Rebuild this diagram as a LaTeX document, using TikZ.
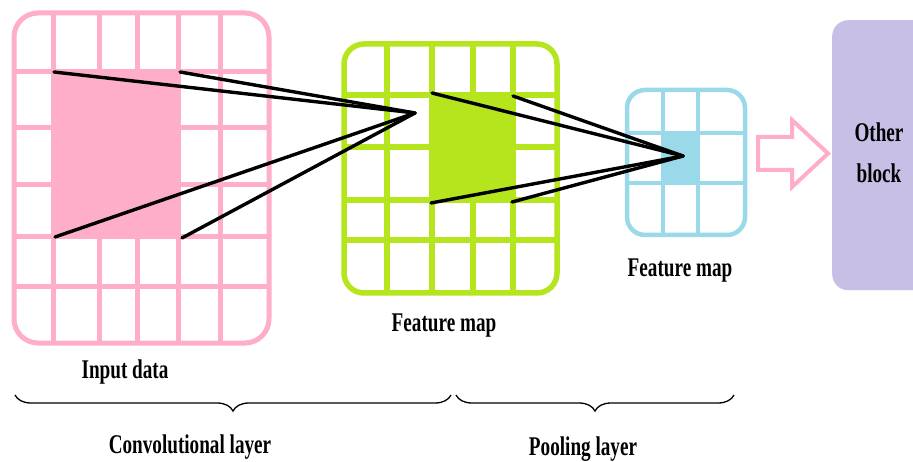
\documentclass[tikz,border=0pt]{standalone}
\usepackage{fontspec}
\setmainfont{Liberation Serif}[FakeStretch=0.71]
\usetikzlibrary{decorations.pathreplacing}
\definecolor{rosec}{HTML}{FFAEC9}
\definecolor{limec}{HTML}{B5E61D}
\definecolor{turqc}{HTML}{99D9EA}
\definecolor{lavc}{HTML}{C8BFE7}
\tikzset{
  lbl/.style={font=\fontsize{27}{32}\selectfont\bfseries, inner sep=0pt, anchor=base},
  ray/.style={line width=3.4pt, line cap=round, black},
  bracestyle/.style={decorate, decoration={brace, amplitude=16pt, mirror}, line width=1.3pt, black},
}
\begin{document}
\begin{tikzpicture}[x=1pt,y=-1pt]
\clip (0,0) rectangle (913,462);
\fill[white] (0,0) rectangle (913,462);

% ---- Input data grid (pink)
\fill[rosec] (53,70) rectangle (180,238);
\begin{scope}[line width=5pt, rosec]
  \foreach \x in {53,99,137,178,220} \draw (\x,13) -- (\x,343);
  \foreach \y in {72,128,185,237,287} \draw (14,\y) -- (269,\y);
  \draw[rounded corners=24pt] (14,13) rectangle (269,343);
\end{scope}

% ---- Feature map grid (green)
\fill[limec] (432,95) rectangle (513,200);
\begin{scope}[line width=5.5pt, limec]
  \foreach \x in {387,432,473,513} \draw (\x,44) -- (\x,293);
  \foreach \y in {95,147,200,240} \draw (344,\y) -- (557,\y);
  \draw[rounded corners=20pt] (344,44) rectangle (557,293);
\end{scope}

% ---- Pooled feature map grid (blue)
\fill[turqc] (663,133) rectangle (698,183);
\begin{scope}[line width=4.5pt, turqc]
  \foreach \x in {663,698} \draw (\x,90) -- (\x,235);
  \foreach \y in {133,183} \draw (627,\y) -- (745,\y);
  \draw[rounded corners=18pt] (627,90) rectangle (745,235);
\end{scope}

% ---- coordinates for rays
\coordinate (pTL) at (54,72);
\coordinate (pTR) at (180,72);
\coordinate (pBL) at (55,237);
\coordinate (pBR) at (182,238);
\coordinate (gTip) at (415,113);
\coordinate (gTL) at (432,93);
\coordinate (gTR) at (513,96);
\coordinate (gBL) at (431,203);
\coordinate (gBR) at (512,202);
\coordinate (bTip) at (683,156);

\draw[ray] (pTL) -- (gTip);
\draw[ray] (pTR) -- (gTip);
\draw[ray] (pBL) -- (gTip);
\draw[ray] (pBR) -- (gTip);
\draw[ray] (gTL) -- (bTip);
\draw[ray] (gTR) -- (bTip);
\draw[ray] (gBL) -- (bTip);
\draw[ray] (gBR) -- (bTip);

% ---- hollow block arrow
\draw[rosec, line width=4pt, line join=miter]
  (758,137) -- (792,137) -- (792,120) -- (828,153.5) -- (792,187) -- (792,170) -- (758,170) -- cycle;

% ---- Other block
\node[fill=lavc, rounded corners=16pt, minimum width=120pt, minimum height=270pt, inner sep=0pt, anchor=north west] (other) at (832,20) {};
\node[lbl] (otherA) at (879,142) {Other};
\node[lbl] (otherB) at (879,183) {block};

% ---- labels
\node[lbl] (inlbl) at (125,378) {Input data};
\node[lbl] (fm1) at (444,332) {Feature map};
\node[lbl] (fm2) at (680,277) {Feature map};

% ---- braces
\coordinate (b1s) at (15,395);
\coordinate (b1e) at (451,395);
\coordinate (b2s) at (456,395);
\coordinate (b2e) at (734,395);
\draw[bracestyle] (b1s) -- (b1e);
\draw[bracestyle] (b2s) -- (b2e);

\node[lbl] (conv) at (190,453) {Convolutional layer};
\node[lbl] (pool) at (583,455) {Pooling layer};
\end{tikzpicture}
\end{document}
